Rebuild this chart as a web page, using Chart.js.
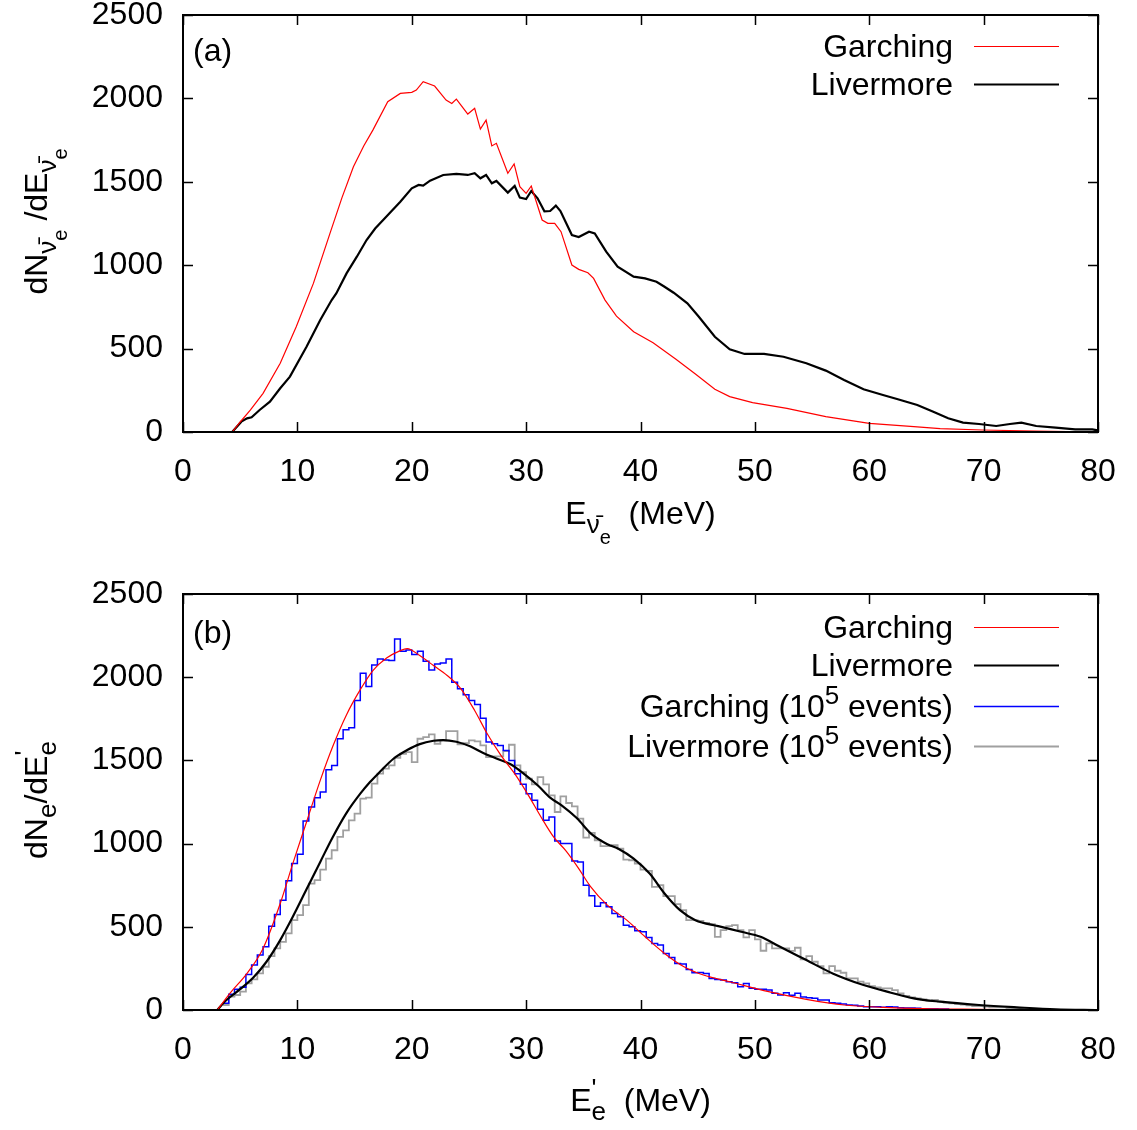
<!DOCTYPE html>
<html>
<head>
<meta charset="utf-8">
<script src="https://cdn.jsdelivr.net/npm/chart.js@4.4.0/dist/chart.umd.min.js"></script>
<style>
  html, body { margin: 0; padding: 0; background: #fff; }
  #wrap { position: relative; width: 1137px; height: 1130px; }
  canvas { position: absolute; left: 0; }
  #panelA { top: 0; }
  #panelB { top: 560px; }
</style>
</head>
<body>
<div id="wrap">
  <canvas id="panelA" width="1137" height="560"></canvas>
  <canvas id="panelB" width="1137" height="570"></canvas>
</div>
<script>
// ---- data ----
const xTicks = [0, 10, 20, 30, 40, 50, 60, 70, 80];
const yTicks = [0, 500, 1000, 1500, 2000, 2500];

// panel (a): neutrino spectra
const aGarchingE = [4.3, 5.0, 5.9, 7.0, 8.5, 9.9, 11.4, 12.85, 13.9, 14.9, 15.8, 16.6, 17.9, 19.0, 20.0, 20.4, 21.0, 22.0, 23.0, 23.5, 23.9, 24.9, 25.5, 26.0, 26.5, 27.0, 27.4, 28.4, 28.95, 29.45, 30.0, 30.45, 31.4, 31.9, 32.5, 33.05, 34.0, 34.6, 35.4, 35.9, 36.9, 37.9, 39.4, 41.1, 43.1, 44.8, 46.5, 47.8, 49.8, 52.8, 56.2, 60.0, 63.9, 66.2, 69.9, 74.6, 80];
const aGarchingN = [0, 60, 132, 232, 412, 631, 891, 1191, 1405, 1590, 1715, 1810, 1980, 2030, 2036, 2050, 2100, 2074, 1990, 1970, 1996, 1906, 1940, 1816, 1870, 1715, 1731, 1551, 1607, 1471, 1431, 1475, 1271, 1251, 1251, 1201, 1001, 975, 955, 921, 791, 695, 601, 535, 436, 348, 256, 212, 176, 142, 92, 52, 32, 20, 12, 5, 0];
const aLivermoreE = [4.3, 5.1, 5.6, 6.0, 6.7, 7.6, 8.5, 9.35, 10.8, 12.0, 13.0, 13.4, 14.3, 15.2, 16.05, 16.8, 17.5, 19.0, 20.0, 20.6, 21.0, 21.6, 22.75, 23.9, 24.9, 25.5, 26.0, 26.5, 27.0, 27.4, 28.4, 29.0, 29.45, 30.0, 30.45, 31.0, 31.6, 32.1, 32.6, 33.0, 34.0, 34.6, 35.5, 36.0, 37.0, 38.0, 39.4, 40.4, 41.4, 42.1, 42.9, 44.1, 45.1, 46.5, 47.8, 49.1, 50.8, 52.5, 54.5, 56.2, 57.8, 59.5, 61.2, 62.5, 64.2, 65.6, 66.9, 68.2, 69.6, 71.1, 72.3, 73.3, 74.6, 76.3, 78.0, 79.5, 80];
const aLivermoreN = [0, 62, 82, 88, 132, 182, 262, 332, 511, 671, 791, 831, 951, 1051, 1151, 1220, 1271, 1381, 1461, 1481, 1477, 1507, 1541, 1547, 1541, 1551, 1521, 1541, 1491, 1505, 1435, 1475, 1405, 1397, 1445, 1401, 1323, 1325, 1357, 1325, 1181, 1169, 1201, 1191, 1081, 991, 931, 921, 901, 871, 835, 771, 691, 571, 496, 468, 468, 451, 412, 368, 312, 256, 222, 196, 162, 122, 82, 56, 48, 36, 48, 56, 36, 26, 16, 16, 10];

// panel (b): positron spectra
const bGarchingE = [3.0, 4.1, 5.6, 7.0, 8.5, 9.6, 10.8, 12.0, 13.1, 14.3, 15.5, 16.6, 17.8, 19.0, 19.6, 20.7, 21.9, 23.1, 24.3, 25.5, 26.6, 27.8, 29.0, 30.2, 31.3, 32.4, 33.5, 34.6, 35.6, 37.1, 38.8, 40.4, 42.1, 43.8, 45.5, 47.8, 51.2, 54.5, 57.8, 61.2, 64.6, 69.6, 76.3, 80];
const bGarchingN = [0, 100, 220, 370, 640, 880, 1130, 1380, 1585, 1775, 1925, 2040, 2115, 2160, 2172, 2130, 2070, 2010, 1930, 1800, 1660, 1530, 1420, 1290, 1160, 1040, 955, 850, 745, 630, 540, 440, 340, 260, 210, 170, 110, 64, 30, 16, 8, 4, 0, 0];
const bLivermoreE = [3.0, 3.8, 5.0, 6.15, 7.3, 8.5, 9.6, 10.8, 12.0, 13.1, 14.3, 15.5, 16.35, 17.2, 18.4, 19.6, 20.7, 21.9, 22.75, 23.9, 25.1, 26.25, 27.4, 28.6, 29.7, 31.1, 32.1, 33.1, 34.4, 35.75, 37.1, 38.1, 39.4, 40.8, 42.1, 43.45, 44.8, 46.8, 48.8, 50.5, 52.2, 54.5, 56.8, 59.5, 61.9, 63.9, 66.2, 69.6, 72.9, 76.3, 80];
const bLivermoreN = [0, 60, 125, 195, 290, 420, 560, 725, 890, 1040, 1185, 1300, 1370, 1430, 1510, 1562, 1598, 1618, 1622, 1612, 1585, 1545, 1512, 1478, 1425, 1345, 1276, 1230, 1155, 1055, 996, 968, 910, 820, 700, 600, 540, 504, 470, 440, 380, 300, 220, 150, 104, 70, 50, 30, 16, 4, 0];

// 10^5 event histograms, 0.5 MeV bins starting at 3.5 MeV
const histStart = 3.5;
const histBin = 0.5;
const bGarchingHist = [40, 94, 124, 136, 214, 270, 330, 380, 504, 574, 660, 776, 880, 936, 1136, 1220, 1276, 1310, 1444, 1470, 1630, 1684, 1696, 1860, 2024, 1944, 2074, 2110, 2104, 2100, 2230, 2156, 2164, 2136, 2156, 2096, 2044, 2080, 2086, 2110, 1970, 1930, 1894, 1860, 1836, 1754, 1610, 1600, 1590, 1560, 1500, 1420, 1356, 1300, 1260, 1206, 1140, 1160, 1016, 1000, 1000, 896, 890, 750, 686, 624, 644, 620, 580, 560, 510, 500, 476, 470, 436, 400, 390, 340, 316, 280, 276, 244, 224, 226, 220, 190, 184, 180, 170, 164, 140, 160, 130, 124, 124, 120, 100, 90, 104, 88, 100, 78, 74, 70, 60, 60, 44, 40, 36, 30, 28, 24, 20, 20, 20, 16, 20, 18, 14, 12, 12, 10, 8, 8, 8, 6, 6];
const bLivermoreHist = [30, 80, 90, 110, 160, 184, 220, 260, 324, 370, 410, 460, 540, 570, 630, 760, 780, 844, 910, 960, 1040, 1080, 1140, 1180, 1270, 1276, 1360, 1420, 1450, 1470, 1516, 1540, 1550, 1490, 1630, 1640, 1656, 1600, 1620, 1676, 1676, 1596, 1604, 1620, 1614, 1590, 1520, 1524, 1524, 1556, 1594, 1470, 1430, 1390, 1356, 1400, 1356, 1290, 1190, 1284, 1244, 1224, 1150, 1036, 1064, 1020, 985, 985, 990, 970, 904, 900, 880, 844, 836, 740, 750, 684, 684, 636, 600, 540, 540, 536, 524, 516, 440, 480, 504, 510, 480, 436, 480, 424, 356, 400, 370, 370, 370, 355, 374, 304, 324, 290, 264, 220, 264, 236, 224, 190, 190, 170, 160, 144, 136, 130, 130, 120, 100, 84, 76, 70, 64, 56, 60, 50, 44, 40, 36, 32, 28, 24, 24, 20, 16, 16, 16, 12, 12, 8, 8, 4, 4];

// ---- style ----
const FONT = '"Liberation Sans", Arial, Helvetica, sans-serif';
const FS = 32;
const RED = '#ff0000';
const BLACK = '#000000';
const BLUE = '#0000ff';
const GRAY = '#a0a0a0';
const NU = 'ν\u0304';

function pts(es, ns) {
  return es.map((e, i) => ({ x: e, y: ns[i] }));
}

function histPts(start, bin, counts) {
  const out = counts.map((c, i) => ({ x: start + i * bin, y: c }));
  out.push({ x: start + counts.length * bin, y: counts[counts.length - 1] });
  return out;
}

// draw text made of pieces (sub/superscripts), baseline at y
function drawRich(ctx, parts, x, y, align) {
  const laid = [];
  let cx = 0, prevStart = 0, prevW = 0;
  parts.forEach(p => {
    const size = Math.round(FS * (p.s || 1));
    ctx.font = size + 'px ' + FONT;
    const w = ctx.measureText(p.t).width;
    let px;
    if (p.stack) {
      px = prevStart;
      cx = prevStart + Math.max(prevW, w);
    } else {
      px = cx;
      cx += w;
    }
    laid.push({ p, size, px });
    prevStart = px;
    prevW = w;
  });
  const total = cx;
  const x0 = align === 'right' ? x - total : align === 'center' ? x - total / 2 : x;
  ctx.textAlign = 'left';
  ctx.textBaseline = 'alphabetic';
  ctx.fillStyle = '#000';
  laid.forEach(l => {
    ctx.font = l.size + 'px ' + FONT;
    ctx.fillText(l.p.t, x0 + l.px, y + (l.p.dy || 0));
  });
}

// gnuplot-like frame, inward ticks, legend, titles
const decorPlugin = {
  id: 'decor',
  afterDraw(chart, args, opts) {
    const ctx = chart.ctx;
    const a = chart.chartArea;
    const xs = chart.scales.x;
    const ys = chart.scales.y;
    ctx.save();
    ctx.strokeStyle = '#000';
    ctx.lineWidth = 1.5;
    ctx.beginPath();
    xTicks.forEach(v => {
      const px = Math.round(xs.getPixelForValue(v)) + 0.5;
      ctx.moveTo(px, a.bottom); ctx.lineTo(px, a.bottom - 10);
      ctx.moveTo(px, a.top); ctx.lineTo(px, a.top + 10);
    });
    yTicks.forEach(v => {
      const py = Math.round(ys.getPixelForValue(v)) + 0.5;
      ctx.moveTo(a.left, py); ctx.lineTo(a.left + 10, py);
      ctx.moveTo(a.right, py); ctx.lineTo(a.right - 10, py);
    });
    ctx.stroke();
    ctx.lineWidth = 2;
    ctx.strokeRect(a.left, a.top, a.right - a.left, a.bottom - a.top);

    // panel label
    drawRich(ctx, [{ t: opts.panel }], a.left + 10, a.top + opts.panelDy, 'left');

    // legend
    chart.data.datasets.forEach((ds, i) => {
      const y = a.top + opts.legendRows[i];
      drawRich(ctx, ds.legendParts, a.right - 145, y + 11, 'right');
      ctx.strokeStyle = ds.borderColor;
      ctx.lineWidth = ds.borderWidth;
      ctx.beginPath();
      ctx.moveTo(a.right - 124, y + 0.5);
      ctx.lineTo(a.right - 39, y + 0.5);
      ctx.stroke();
    });

    // axis titles
    drawRich(ctx, opts.xTitle, (a.left + a.right) / 2, a.bottom + opts.xTitleDy, 'center');
    ctx.translate(47, (a.top + a.bottom) / 2 - 2);
    ctx.rotate(-Math.PI / 2);
    drawRich(ctx, opts.yTitle, 0, 0, 'center');
    ctx.restore();
  }
};

function makeOptions(xAxisHeight, padTop, decor) {
  const tickFont = { family: FONT, size: FS };
  return {
    responsive: false,
    animation: false,
    events: [],
    layout: { padding: { top: padTop, right: 39, left: 0, bottom: 0 } },
    plugins: { legend: { display: false }, tooltip: { enabled: false }, decor },
    elements: { point: { radius: 0 } },
    scales: {
      x: {
        type: 'linear', min: 0, max: 80,
        grid: { display: false, drawTicks: false },
        border: { display: false },
        ticks: { stepSize: 10, font: tickFont, color: '#000', padding: 21, maxRotation: 0, callback: v => String(v) },
        afterFit: s => { s.height = xAxisHeight; s.paddingLeft = 0; s.paddingRight = 0; }
      },
      y: {
        type: 'linear', min: 0, max: 2500,
        grid: { display: false, drawTicks: false },
        border: { display: false },
        ticks: { stepSize: 500, font: tickFont, color: '#000', padding: 20, callback: v => String(v) },
        afterFit: s => { s.width = 183; s.paddingTop = 0; s.paddingBottom = 0; }
      }
    }
  };
}

new Chart(document.getElementById('panelA'), {
  type: 'line',
  data: {
    datasets: [
      { label: 'Garching', legendParts: [{ t: 'Garching' }], data: pts(aGarchingE, aGarchingN), borderColor: RED, borderWidth: 1.2, tension: 0, order: 0 },
      { label: 'Livermore', legendParts: [{ t: 'Livermore' }], data: pts(aLivermoreE, aLivermoreN), borderColor: BLACK, borderWidth: 2.2, tension: 0, order: 1 }
    ]
  },
  options: makeOptions(128, 15, {
    panel: '(a)', panelDy: 46,
    legendRows: [31, 69],
    xTitle: [{ t: 'E' }, { t: NU, s: 0.8, dy: 9 }, { t: 'e', s: 0.64, dy: 20 }, { t: '  (MeV)' }],
    xTitleDy: 92,
    yTitle: [{ t: 'dN' }, { t: NU, s: 0.8, dy: 9 }, { t: 'e', s: 0.64, dy: 20 }, { t: ' /dE' }, { t: NU, s: 0.8, dy: 9 }, { t: 'e', s: 0.64, dy: 20 }]
  }),
  plugins: [decorPlugin]
});

new Chart(document.getElementById('panelB'), {
  type: 'line',
  data: {
    datasets: [
      { label: 'Garching', legendParts: [{ t: 'Garching' }], data: pts(bGarchingE, bGarchingN), borderColor: RED, borderWidth: 1.2, cubicInterpolationMode: 'monotone', order: 0 },
      { label: 'Livermore', legendParts: [{ t: 'Livermore' }], data: pts(bLivermoreE, bLivermoreN), borderColor: BLACK, borderWidth: 2.2, cubicInterpolationMode: 'monotone', order: 1 },
      { label: 'Garching (10^5 events)', legendParts: [{ t: 'Garching (10' }, { t: '5', s: 0.8, dy: -13 }, { t: ' events)' }], data: histPts(histStart, histBin, bGarchingHist), borderColor: BLUE, borderWidth: 1.5, stepped: 'before', order: 2 },
      { label: 'Livermore (10^5 events)', legendParts: [{ t: 'Livermore (10' }, { t: '5', s: 0.8, dy: -13 }, { t: ' events)' }], data: histPts(histStart, histBin, bLivermoreHist), borderColor: GRAY, borderWidth: 1.8, stepped: 'before', order: 3 }
    ]
  },
  options: makeOptions(120, 34, {
    panel: '(b)', panelDy: 49,
    legendRows: [33, 71, 112, 152],
    xTitle: [{ t: 'E' }, { t: "'", s: 0.8, dy: -14 }, { t: 'e', s: 0.8, dy: 9, stack: true }, { t: '  (MeV)' }],
    xTitleDy: 101,
    yTitle: [{ t: 'dN' }, { t: 'e', s: 0.8, dy: 9 }, { t: '/dE' }, { t: "'", s: 0.8, dy: -14 }, { t: 'e', s: 0.8, dy: 9, stack: true }]
  }),
  plugins: [decorPlugin]
});
</script>
</body>
</html>
